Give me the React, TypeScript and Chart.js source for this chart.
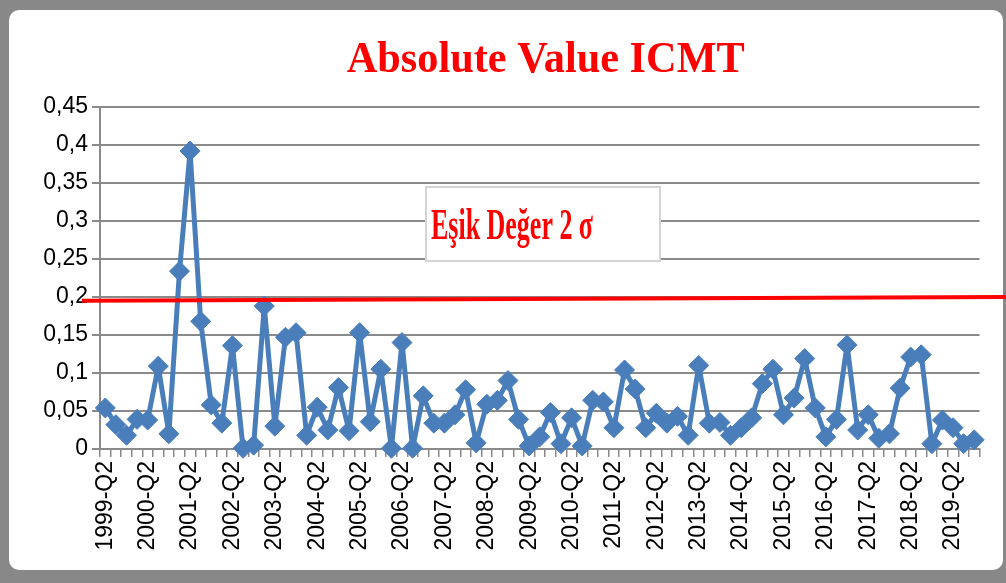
import React, { useEffect, useRef } from 'react';
import { Chart, registerables } from 'chart.js';

Chart.register(...registerables);

const categories = [
  '1999-Q2', '1999-Q3', '1999-Q4',
  '2000-Q1', '2000-Q2', '2000-Q3', '2000-Q4',
  '2001-Q1', '2001-Q2', '2001-Q3', '2001-Q4',
  '2002-Q1', '2002-Q2', '2002-Q3', '2002-Q4',
  '2003-Q1', '2003-Q2', '2003-Q3', '2003-Q4',
  '2004-Q1', '2004-Q2', '2004-Q3', '2004-Q4',
  '2005-Q1', '2005-Q2', '2005-Q3', '2005-Q4',
  '2006-Q1', '2006-Q2', '2006-Q3', '2006-Q4',
  '2007-Q1', '2007-Q2', '2007-Q3', '2007-Q4',
  '2008-Q1', '2008-Q2', '2008-Q3', '2008-Q4',
  '2009-Q1', '2009-Q2', '2009-Q3', '2009-Q4',
  '2010-Q1', '2010-Q2', '2010-Q3', '2010-Q4',
  '2011-Q1', '2011-Q2', '2011-Q3', '2011-Q4',
  '2012-Q1', '2012-Q2', '2012-Q3', '2012-Q4',
  '2013-Q1', '2013-Q2', '2013-Q3', '2013-Q4',
  '2014-Q1', '2014-Q2', '2014-Q3', '2014-Q4',
  '2015-Q1', '2015-Q2', '2015-Q3', '2015-Q4',
  '2016-Q1', '2016-Q2', '2016-Q3', '2016-Q4',
  '2017-Q1', '2017-Q2', '2017-Q3', '2017-Q4',
  '2018-Q1', '2018-Q2', '2018-Q3', '2018-Q4',
  '2019-Q1', '2019-Q2', '2019-Q3', '2019-Q4',
];

const icmtValues = [
  0.054, 0.032, 0.018, 0.039, 0.038, 0.109, 0.020, 0.234, 0.392, 0.168,
  0.058, 0.034, 0.136, 0.001, 0.005, 0.188, 0.030, 0.147, 0.153, 0.018,
  0.055, 0.025, 0.081, 0.024, 0.153, 0.036, 0.105, 0.001, 0.140, 0.001,
  0.070, 0.034, 0.034, 0.045, 0.078, 0.008, 0.059, 0.064, 0.090, 0.039,
  0.004, 0.016, 0.048, 0.007, 0.041, 0.004, 0.064, 0.062, 0.028, 0.104,
  0.079, 0.028, 0.047, 0.034, 0.043, 0.018, 0.110, 0.034, 0.035, 0.018,
  0.028, 0.041, 0.086, 0.105, 0.045, 0.067, 0.119, 0.054, 0.016, 0.039,
  0.137, 0.025, 0.045, 0.014, 0.020, 0.080, 0.121, 0.124, 0.007, 0.038,
  0.028, 0.007, 0.012,
];

const Y_MIN = 0;
const Y_MAX = 0.45;
const Y_STEP = 0.05;

// threshold (2 sigma) line, drawn slightly sloped as in the picture
const thresholdStart = 0.195;
const thresholdEnd = 0.2;

const TITLE = 'Absolute Value ICMT';
const NOTE = 'Eşik Değer 2 σ';

const GRID = '#8a8a8a';
const BLUE = '#4a7ebb';
const RED = '#ff0000';

function drawFitted(
  ctx: CanvasRenderingContext2D,
  text: string,
  x: number,
  y: number,
  width: number,
  align: CanvasTextAlign
) {
  const w = ctx.measureText(text).width;
  const s = width / w;
  ctx.save();
  ctx.translate(x, y);
  ctx.scale(s, 1);
  ctx.textAlign = align;
  ctx.textBaseline = 'alphabetic';
  ctx.fillText(text, 0, 0);
  ctx.restore();
}

const overlayPlugin = {
  id: 'overlay',
  afterDatasetsDraw(chart: any) {
    const { ctx, chartArea } = chart;
    const y = chart.scales.y;
    ctx.save();
    // threshold line
    ctx.strokeStyle = RED;
    ctx.lineWidth = 4;
    ctx.beginPath();
    ctx.moveTo(chartArea.left - 18, y.getPixelForValue(thresholdStart));
    ctx.lineTo(chart.width, y.getPixelForValue(thresholdEnd));
    ctx.stroke();

    // title
    ctx.fillStyle = RED;
    ctx.font = 'bold 45px "Liberation Serif", "Times New Roman", serif';
    drawFitted(ctx, TITLE, (chartArea.left + chartArea.right) / 2 + 6, 72, 398, 'center');

    // note box
    ctx.fillStyle = '#ffffff';
    ctx.fillRect(425, 186, 236, 76);
    ctx.strokeStyle = '#d4d4d4';
    ctx.lineWidth = 2;
    ctx.strokeRect(426, 187, 234, 74);
    ctx.fillStyle = RED;
    ctx.font = 'bold 45px "Liberation Serif", "Times New Roman", serif';
    drawFitted(ctx, NOTE, 431, 239, 162, 'left');
    ctx.restore();
  },
};

export default function App() {
  const canvasRef = useRef<HTMLCanvasElement | null>(null);

  useEffect(() => {
    const canvas = canvasRef.current;
    if (!canvas) return;
    const chart = new Chart(canvas, {
      type: 'line',
      data: {
        labels: categories,
        datasets: [
          {
            label: 'Absolute Value ICMT',
            data: icmtValues,
            borderColor: BLUE,
            backgroundColor: BLUE,
            borderWidth: 5,
            borderJoinStyle: 'round',
            borderCapStyle: 'round',
            pointStyle: 'rectRot',
            pointRadius: 10,
            pointBorderWidth: 1,
            pointBackgroundColor: BLUE,
            pointBorderColor: BLUE,
            tension: 0,
            clip: false as any,
          },
        ],
      },
      options: {
        responsive: false,
        animation: false,
        devicePixelRatio: 1,
        layout: { padding: { left: 0, top: 107, right: 26, bottom: 0 } },
        plugins: {
          legend: { display: false },
          title: { display: false },
          tooltip: { enabled: false },
        },
        scales: {
          x: {
            type: 'category',
            offset: true,
            afterFit(scale: any) {
              scale.height = 134;
            },
            grid: {
              display: true,
              drawOnChartArea: false,
              drawTicks: true,
              tickLength: 8,
              color: GRID,
              lineWidth: 1.5,
              offset: true,
            },
            border: { display: true, color: GRID, width: 2 },
            ticks: {
              autoSkip: false,
              maxRotation: 90,
              minRotation: 90,
              padding: 4,
              color: '#000000',
              font: { family: '"Liberation Sans", Arial, sans-serif', size: 23 },
              callback(_v: any, idx: number) {
                const lab = categories[idx];
                return lab.endsWith('Q2') ? lab : '';
              },
            },
          },
          y: {
            min: Y_MIN,
            max: Y_MAX,
            afterFit(scale: any) {
              scale.width = 100;
            },
            grid: {
              color: GRID,
              lineWidth: 2,
              drawTicks: true,
              tickLength: 8,
            },
            border: { display: true, color: GRID, width: 2 },
            ticks: {
              stepSize: Y_STEP,
              padding: 4,
              color: '#000000',
              font: { family: '"Liberation Sans", Arial, sans-serif', size: 23 },
              callback(v: any) {
                return String(Number(Number(v).toFixed(2))).replace('.', ',');
              },
            },
          },
        },
      },
      plugins: [overlayPlugin],
    });
    return () => chart.destroy();
  }, []);

  return (
    <div
      style={{
        position: 'fixed',
        left: 0,
        top: 0,
        width: 1006,
        height: 583,
        background: '#888888',
        overflow: 'hidden',
      }}
    >
      <div
        style={{
          position: 'absolute',
          left: 9,
          top: 10,
          width: 994,
          height: 560,
          background: '#ffffff',
          borderRadius: 10,
        }}
      />
      <canvas
        ref={canvasRef}
        width={1006}
        height={583}
        style={{ position: 'absolute', left: 0, top: 0, width: 1006, height: 583 }}
      />
    </div>
  );
}
